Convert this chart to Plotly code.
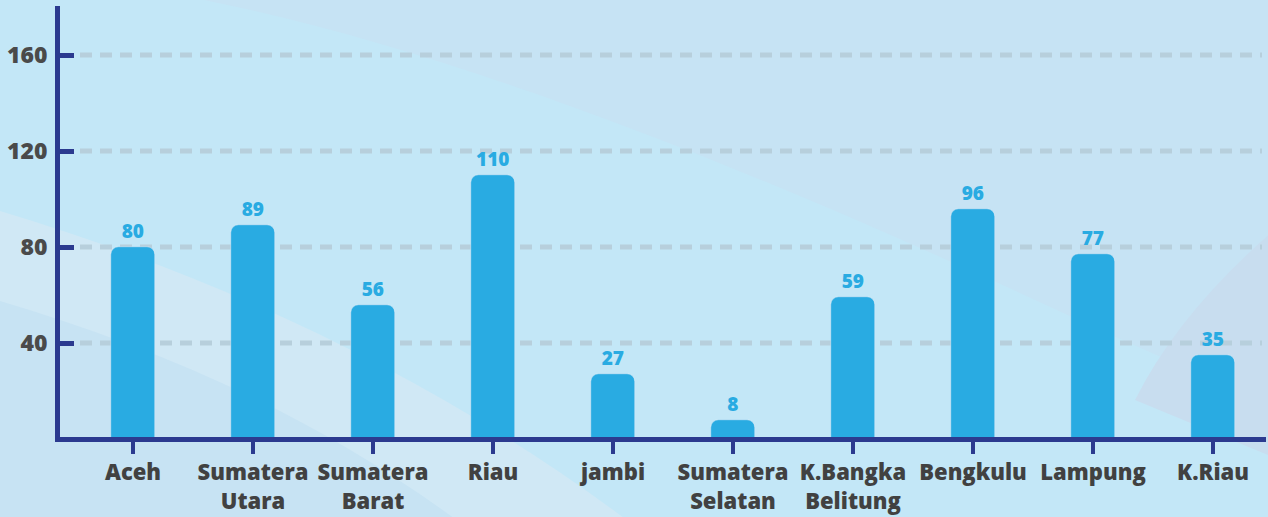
import plotly.graph_objects as go

# Provinces (two-line tick labels) and their values
provinces = ["Aceh", "Sumatera<br>Utara", "Sumatera<br>Barat", "Riau", "jambi",
             "Sumatera<br>Selatan", "K.Bangka<br>Belitung", "Bengkulu", "Lampung", "K.Riau"]
values = [80, 89, 56, 110, 27, 8, 59, 96, 77, 35]
y_ticks = [40, 80, 120, 160]

NAVY = "#2b3a8f"
BAR = "#29abe2"
TEXT = "#414141"
GRID = "#b7cfdc"
FONT = "Open Sans"

W, H = 1268, 517
L, R, T, B = 60, 2, 6, 80
PW, PH = W - L - R, H - T - B
PB = H - B


def to_paper(x, y):
    """Pixel position on the page -> paper coordinates."""
    return (x - L) / PW, (PB - y) / PH


def path(cmds):
    out = []
    for c in cmds:
        if isinstance(c, str):
            out.append(c)
        else:
            px, py = to_paper(*c)
            out.append(f"{px:.4f},{py:.4f}")
    return " ".join(out)


xs = list(range(len(provinces)))

fig = go.Figure(go.Bar(
    x=xs, y=values,
    width=0.36,
    marker=dict(color=BAR, cornerradius=8),
    text=[str(v) for v in values],
    textposition="outside",
    textfont=dict(family=FONT, size=19, color=BAR, weight=800),
    cliponaxis=False,
    hoverinfo="skip",
))

# soft background waves
shapes = [
    dict(type="path", xref="paper", yref="paper", layer="below", line_width=0,
         fillcolor="#c6e3f4",
         path=path(["M", (150, -10), "C", (450, 40), (800, 190), (1100, 330),
                    "L", (1280, 410), "L", (1280, -10), "Z"])),
    dict(type="path", xref="paper", yref="paper", layer="below", line_width=0,
         fillcolor="#c8ddef",
         path=path(["M", (1280, 225), "Q", (1180, 310), (1135, 400),
                    "L", (1280, 460), "Z"])),
    dict(type="path", xref="paper", yref="paper", layer="below", line_width=0,
         fillcolor="#d0e8f5",
         path=path(["M", (-10, 208), "C", (200, 270), (430, 370), (640, 530),
                    "L", (-10, 530), "Z"])),
    dict(type="path", xref="paper", yref="paper", layer="below", line_width=0,
         fillcolor="#c7e3f3",
         path=path(["M", (-10, 298), "C", (150, 345), (310, 410), (470, 530),
                    "L", (-10, 530), "Z"])),
]

# dashed guide lines at each y tick
gx0, _ = to_paper(80, 0)
gx1, _ = to_paper(1262, 0)
for v in y_ticks:
    shapes.append(dict(type="line", xref="paper", yref="y", layer="below",
                       x0=gx0, x1=gx1, y0=v, y1=v,
                       line=dict(color=GRID, width=5, dash="12px,8px")))

fig.update_layout(
    width=W, height=H,
    margin=dict(l=L, r=R, t=T, b=B, pad=0),
    paper_bgcolor="#c3e7f7",
    plot_bgcolor="rgba(0,0,0,0)",
    showlegend=False,
    shapes=shapes,
    bargap=0,
    xaxis=dict(
        range=[(L - 133) / 120, (W - R - 133) / 120],
        tickvals=xs, ticktext=provinces,
        showgrid=False, zeroline=False,
        showline=True, linecolor=NAVY, linewidth=5,
        ticks="outside", ticklen=12, tickwidth=4, tickcolor=NAVY,
        tickfont=dict(family=FONT, size=22, color=TEXT, weight=800),
        fixedrange=True,
    ),
    yaxis=dict(
        range=[(439 - PB) / 2.4, (439 - T) / 2.4],
        tickvals=y_ticks,
        showgrid=False, zeroline=False,
        showline=True, linecolor=NAVY, linewidth=5,
        ticks="inside", ticklen=14, tickwidth=5, tickcolor=NAVY,
        ticklabelstandoff=3,
        tickfont=dict(family=FONT, size=23, color="#4a4a4a", weight=800),
        fixedrange=True,
    ),
)

fig.write_html("out.html", config={"displayModeBar": False})
